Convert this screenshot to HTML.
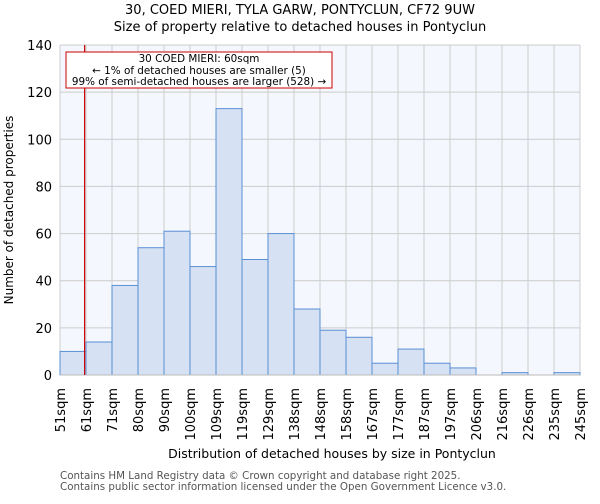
<!DOCTYPE html>
<html><head><meta charset="utf-8"><style>
body{margin:0;background:#fff;font-family:"DejaVu Sans","Liberation Sans",sans-serif;}
svg text{font-family:"DejaVu Sans","Liberation Sans",sans-serif;}
</style></head><body>
<svg id="chart" width="600" height="500" xmlns="http://www.w3.org/2000/svg">
<rect width="600" height="500" fill="#fff"/>
<text x="300" y="14" text-anchor="middle" font-size="13" fill="#000">30, COED MIERI, TYLA GARW, PONTYCLUN, CF72 9UW</text>
<text x="300" y="31" text-anchor="middle" font-size="13" fill="#000">Size of property relative to detached houses in Pontyclun</text>
<rect x="60" y="45" width="520" height="330" fill="#f4f7fd"/>
<g id="grid"></g>
<g id="bars"></g>
<g id="axes"></g>
<line id="marker" x1="0" x2="0" y1="45" y2="375" stroke="#cc0000" stroke-width="1.2"/>
<rect x="66" y="52" width="266" height="36" fill="#fff" stroke="#cc0000" stroke-width="1"/>
<text x="199" y="62" text-anchor="middle" font-size="10.4">30 COED MIERI: 60sqm</text>
<text x="199" y="74" text-anchor="middle" font-size="10.4">← 1% of detached houses are smaller (5)</text>
<text x="199" y="85" text-anchor="middle" font-size="10.4">99% of semi-detached houses are larger (528) →</text>
<text x="332" y="458" text-anchor="middle" font-size="12.5">Distribution of detached houses by size in Pontyclun</text>
<text transform="translate(13,210) rotate(-90)" text-anchor="middle" font-size="12">Number of detached properties</text>
<text x="60" y="479" font-size="10.3" fill="#555">Contains HM Land Registry data © Crown copyright and database right 2025.</text>
<text x="60" y="490" font-size="10.3" fill="#555">Contains public sector information licensed under the Open Government Licence v3.0.</text>
</svg>
<script>
const tickLabels = ["51sqm","61sqm","71sqm","80sqm","90sqm","100sqm","109sqm","119sqm","129sqm","138sqm","148sqm","158sqm","167sqm","177sqm","187sqm","197sqm","206sqm","216sqm","226sqm","235sqm","245sqm"];
const counts = [10,14,38,54,61,46,113,49,60,28,19,16,5,11,5,3,0,1,0,1];
const yTicks = [0,20,40,60,80,100,120,140];
const markerValue = 60;
const binStart = 51, binEnd = 245;

const L=60,R=580,T=45,B=375,yMax=140;
const NS="http://www.w3.org/2000/svg";
const bw=(R-L)/counts.length;
const xi=i=>L+i*bw;
const y=v=>B-(v/yMax)*(B-T);
const xv=v=>L+(v-binStart)/(binEnd-binStart)*(R-L);
function mk(tag,attrs,parent){const e=document.createElementNS(NS,tag);for(const k in attrs)e.setAttribute(k,attrs[k]);parent.appendChild(e);return e;}
const grid=document.getElementById('grid'),bars=document.getElementById('bars'),axes=document.getElementById('axes');
yTicks.forEach(t=>{
  const l=mk('line',{x1:L,x2:R,y1:y(t),y2:y(t),stroke:'#cccccc','stroke-width':1},grid);
  
  
  const tx=mk('text',{x:L-8,y:y(t)+5,'text-anchor':'end','font-size':13},axes);
  tx.textContent=t;
  
  
});
tickLabels.forEach((lab,i)=>{
  const l=mk('line',{x1:xi(i),x2:xi(i),y1:T,y2:B,stroke:'#cccccc','stroke-width':1},grid);
  
  
  const tx=mk('text',{transform:`translate(${xi(i)+5},388) rotate(-90)`,'text-anchor':'end','font-size':13},axes);
  tx.textContent=lab;
  
  
});
counts.forEach((c,i)=>{
  const r=mk('rect',{x:xi(i),y:y(c),width:bw,height:B-y(c),fill:'#d6e1f3',stroke:'#5b8fd6','stroke-width':1},bars);
  
  
});
const ax=mk('line',{x1:L,x2:R,y1:B,y2:B,stroke:'#bbbbbb','stroke-width':1},axes);


const m=document.getElementById('marker');
m.setAttribute('x1',xv(markerValue)+0.5);m.setAttribute('x2',xv(markerValue)+0.5);
</script>
</body></html>
